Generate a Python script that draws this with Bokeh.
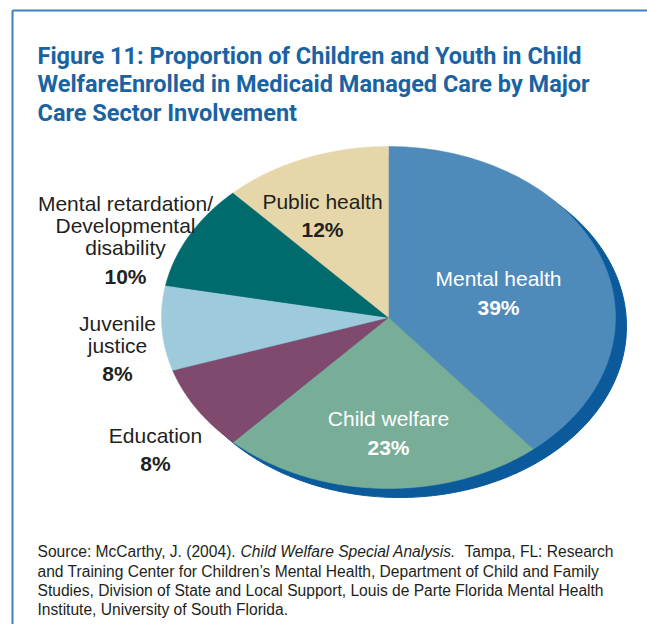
import numpy as np
from bokeh.plotting import figure
from bokeh.models import Range1d
from bokeh.core.properties import value
from bokeh.embed import file_html
from bokeh.resources import INLINE

# ---- data ----
sectors = ["Mental health", "Child welfare", "Education", "Juvenile justice",
           "Mental retardation/Developmental disability", "Public health"]
shares = [39, 23, 8, 8, 10, 12]
colors = ["#4F8BBA", "#78AE98", "#7F4A6E", "#9DCBDC", "#006A6C", "#E6D7AA"]

title_lines = ["Figure 11: Proportion of Children and Youth in Child",
               "WelfareEnrolled in Medicaid Managed Care by Major",
               "Care Sector Involvement"]

source_line1 = ["Source: McCarthy, J. (2004).", "Child Welfare Special Analysis.", "Tampa, FL: Research"]
source_rest = ["and Training Center for Children\u2019s Mental Health, Department of Child and Family",
               "Studies, Division of State and Local Support, Louis de Parte Florida Mental Health",
               "Institute, University of South Florida."]

W, H = 647, 624
p = figure(width=W, height=H, x_range=Range1d(0, W), y_range=Range1d(H, 0),
           output_backend="svg", toolbar_location=None, min_border=0)
p.axis.visible = False
p.grid.visible = False
p.outline_line_color = None
p.background_fill_color = "white"

FONT = "Liberation Sans"
TFONT = "Roboto"

# frame lines
p.line([12, W], [10, 10], line_color="#3F80C0", line_width=2)
p.line([12, 12], [10, H], line_color="#3F80C0", line_width=2)

# ---- pie geometry ----
cx, cy, a, b = 388, 317, 227, 171
dx, dy = 11, 9

t = np.linspace(0, 2 * np.pi, 400)
p.patch(cx + dx + a * np.sin(t), cy + dy - b * np.cos(t), fill_color="#0A5A9C", line_color="#0A5A9C")

cum = np.concatenate([[0], np.cumsum(shares)]) / sum(shares) * 2 * np.pi
xs, ys = [], []
for i in range(len(shares)):
    th = np.linspace(cum[i], cum[i + 1], 120)
    xs.append(list(np.concatenate([[cx], cx + a * np.sin(th)])))
    ys.append(list(np.concatenate([[cy], cy - b * np.cos(th)])))
p.patches(xs, ys, fill_color=colors, line_color=colors, line_width=0.5)

# ---- labels ----
def txt(x, y, s, size, color="#231F20", bold=False, italic=False, align="center", font=FONT):
    style = "bold" if bold else ("italic" if italic else "normal")
    p.text(x=[x], y=[y], text=[s], text_font=value(font), text_font_size=f"{size}px",
           text_color=color, text_align=align, text_baseline="alphabetic", text_font_style=style)

lab = 21
# Mental health
txt(498, 278, sectors[0], lab, "white")
txt(498, 307, f"{shares[0]}%", lab, "white", bold=True)
# Child welfare
txt(388, 418, sectors[1], lab, "white")
txt(388, 447, f"{shares[1]}%", lab, "white", bold=True)
# Public health
txt(322, 201, sectors[5], lab)
txt(322, 229, f"{shares[5]}%", lab, bold=True)
# MR/DD
txt(125, 203, "Mental retardation/", lab)
txt(125, 225, "Developmental", lab)
txt(125, 247, "disability", lab)
txt(125, 276, f"{shares[4]}%", lab, bold=True)
# Juvenile justice
txt(117, 323, "Juvenile", lab)
txt(117, 345, "justice", lab)
txt(117, 373, f"{shares[3]}%", lab, bold=True)
# Education
txt(155, 435, sectors[2], lab)
txt(155, 463, f"{shares[2]}%", lab, bold=True)

# ---- title ----
for i, s in enumerate(title_lines):
    txt(37, 55 + i * 28.5, s, 23.5, "#1A63A3", bold=True, align="left", font=TFONT)

# ---- source ----
src = 15.6
txt(37, 551, source_line1[0], src, align="left")
txt(240, 551, source_line1[1], src, italic=True, align="left")
txt(613, 551, source_line1[2], src, align="right")
for i, s in enumerate(source_rest):
    txt(37, 570.5 + i * 19.3, s, src, align="left")

open("out.html", "w").write(file_html(p, INLINE))
